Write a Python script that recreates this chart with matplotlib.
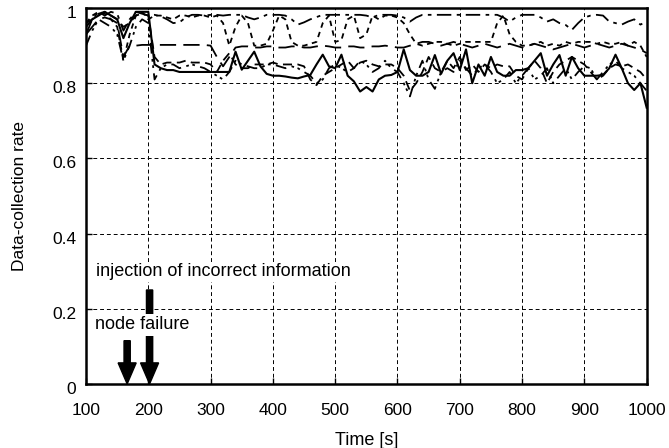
import matplotlib
matplotlib.use('Agg')
import matplotlib.pyplot as plt
import matplotlib.transforms as mtransforms
import numpy as np

plt.rcParams['font.family'] = ['Liberation Sans', 'DejaVu Sans']

# time axis, one sample every 10 s
time = np.arange(100, 1001, 10)

# solid line
rate_a = [0.95, 0.97, 0.98, 0.99, 0.98, 0.97, 0.92, 0.96, 0.99, 0.99,
          0.99, 0.85, 0.84, 0.835, 0.835, 0.83, 0.83, 0.83, 0.83, 0.83,
          0.83, 0.83, 0.83, 0.83, 0.884, 0.836, 0.86, 0.884, 0.845, 0.825,
          0.82, 0.82, 0.818, 0.815, 0.813, 0.818, 0.822, 0.85, 0.876, 0.845,
          0.84, 0.876, 0.82, 0.805, 0.778, 0.79, 0.778, 0.81, 0.82, 0.822,
          0.83, 0.89, 0.835, 0.82, 0.82, 0.83, 0.875, 0.825, 0.86, 0.88,
          0.835, 0.89, 0.80, 0.85, 0.82, 0.87, 0.83, 0.82, 0.82, 0.835,
          0.835, 0.84, 0.86, 0.88, 0.82, 0.85, 0.875, 0.82, 0.87, 0.84,
          0.82, 0.82, 0.82, 0.822, 0.84, 0.876, 0.84, 0.80, 0.782, 0.80,
          0.735]

# dash-dot line (top)
rate_b = [0.93, 0.97, 0.99, 0.98, 0.99, 0.985, 0.94, 0.97, 0.99, 0.985,
          0.98, 0.982, 0.978, 0.97, 0.96, 0.962, 0.975, 0.982, 0.982, 0.98,
          0.982, 0.982, 0.98, 0.982, 0.982, 0.982, 0.975, 0.97, 0.975, 0.982,
          0.982, 0.982, 0.98, 0.97, 0.956, 0.962, 0.97, 0.976, 0.982, 0.982,
          0.982, 0.982, 0.982, 0.982, 0.982, 0.98, 0.975, 0.982, 0.982, 0.982,
          0.98, 0.975, 0.964, 0.975, 0.982, 0.982, 0.982, 0.982, 0.982, 0.982,
          0.982, 0.982, 0.982, 0.982, 0.982, 0.982, 0.982, 0.975, 0.964, 0.975,
          0.982, 0.982, 0.982, 0.975, 0.964, 0.97, 0.96, 0.955, 0.942, 0.96,
          0.975, 0.98, 0.982, 0.98, 0.964, 0.96, 0.956, 0.964, 0.97, 0.956,
          0.964]

# fine dashed line
rate_c = [0.96, 0.98, 0.99, 0.985, 0.97, 0.95, 0.86, 0.93, 0.98, 0.99,
          0.97, 0.98, 0.98, 0.975, 0.97, 0.98, 0.98, 0.975, 0.98, 0.98,
          0.975, 0.98, 0.96, 0.90, 0.95, 0.98, 0.96, 0.90, 0.90, 0.905,
          0.94, 0.98, 0.97, 0.91, 0.90, 0.90, 0.905, 0.91, 0.96, 0.98,
          0.91, 0.915, 0.97, 0.98, 0.92, 0.93, 0.98, 0.97, 0.98, 0.98,
          0.975, 0.96, 0.93, 0.905, 0.90, 0.905, 0.91, 0.91, 0.905, 0.90,
          0.905, 0.91, 0.91, 0.91, 0.91, 0.91, 0.96, 0.98, 0.93, 0.91,
          0.90, 0.90, 0.905, 0.91, 0.90, 0.905, 0.90, 0.91, 0.905, 0.91,
          0.91, 0.91, 0.905, 0.91, 0.905, 0.905, 0.91, 0.90, 0.91, 0.90,
          0.87]

# long dashed line
rate_d = [0.93, 0.95, 0.97, 0.975, 0.97, 0.96, 0.87, 0.90, 0.90, 0.902,
          0.902, 0.902, 0.902, 0.902, 0.902, 0.902, 0.902, 0.902, 0.902, 0.902,
          0.90, 0.87, 0.845, 0.87, 0.895, 0.898, 0.898, 0.895, 0.895, 0.898,
          0.898, 0.895, 0.895, 0.898, 0.898, 0.895, 0.895, 0.898, 0.90, 0.898,
          0.895, 0.895, 0.898, 0.898, 0.895, 0.895, 0.898, 0.898, 0.90, 0.898,
          0.895, 0.895, 0.90, 0.905, 0.91, 0.91, 0.905, 0.90, 0.905, 0.91,
          0.905, 0.90, 0.895, 0.90, 0.905, 0.90, 0.895, 0.90, 0.905, 0.90,
          0.895, 0.90, 0.905, 0.90, 0.895, 0.89, 0.895, 0.90, 0.905, 0.90,
          0.895, 0.90, 0.905, 0.90, 0.895, 0.90, 0.905, 0.90, 0.895, 0.89,
          0.88]

# medium dashed line
rate_e = [0.96, 0.97, 0.985, 0.99, 0.98, 0.97, 0.95, 0.96, 0.98, 0.985,
          0.98, 0.87, 0.85, 0.855, 0.855, 0.855, 0.86, 0.855, 0.855, 0.855,
          0.85, 0.83, 0.86, 0.88, 0.85, 0.84, 0.84, 0.85, 0.85, 0.85,
          0.855, 0.85, 0.85, 0.85, 0.85, 0.845, 0.81, 0.795, 0.82, 0.83,
          0.84, 0.85, 0.86, 0.84, 0.855, 0.86, 0.85, 0.845, 0.85, 0.85,
          0.84, 0.82, 0.78, 0.80, 0.83, 0.87, 0.84, 0.83, 0.86, 0.84,
          0.87, 0.835, 0.85, 0.83, 0.85, 0.84, 0.85, 0.845, 0.845, 0.82,
          0.81, 0.84, 0.86, 0.84, 0.80, 0.83, 0.85, 0.86, 0.87, 0.86,
          0.85, 0.83, 0.81, 0.82, 0.84, 0.85, 0.845, 0.85, 0.84, 0.83,
          0.81]

# dash-dot-dot line
rate_f = [0.90, 0.94, 0.97, 0.96, 0.95, 0.93, 0.86, 0.90, 0.95, 0.97,
          0.96, 0.81, 0.84, 0.85, 0.85, 0.84, 0.845, 0.85, 0.845, 0.84,
          0.83, 0.82, 0.81, 0.83, 0.86, 0.85, 0.845, 0.84, 0.84, 0.85,
          0.85, 0.845, 0.84, 0.845, 0.84, 0.83, 0.82, 0.80, 0.81, 0.84,
          0.85, 0.84, 0.83, 0.84, 0.86, 0.85, 0.83, 0.84, 0.86, 0.84,
          0.83, 0.80, 0.765, 0.82, 0.86, 0.81, 0.785, 0.83, 0.84, 0.83,
          0.86, 0.84, 0.82, 0.84, 0.85, 0.83, 0.80, 0.81, 0.83, 0.80,
          0.82, 0.84, 0.81, 0.82, 0.84, 0.80, 0.82, 0.84, 0.81, 0.83,
          0.845, 0.84, 0.81, 0.83, 0.85, 0.86, 0.84, 0.83, 0.82, 0.80,
          0.78]

x_ticks = [100, 200, 300, 400, 500, 600, 700, 800, 900, 1000]
y_ticks = [0, 0.2, 0.4, 0.6, 0.8, 1]
y_labels = ['0', '0.2', '0.4', '0.6', '0.8', '1']

fig = plt.figure(figsize=(6.69, 4.48), dpi=100)
ax = fig.add_axes([0.1286, 0.143, 0.838, 0.839])

ax.plot(time, rate_a, color='black', lw=1.5, ls='-')
ax.plot(time, rate_b, color='black', lw=1.3, ls=(0, (8, 3, 2, 3)))
ax.plot(time, rate_c, color='black', lw=1.3, ls=(0, (3, 2.5)))
ax.plot(time, rate_d, color='black', lw=1.3, ls=(0, (9, 4)))
ax.plot(time, rate_e, color='black', lw=1.3, ls=(0, (5, 3)))
ax.plot(time, rate_f, color='black', lw=1.3, ls=(0, (6, 3, 1.5, 2, 1.5, 3)))

ax.set_xlim(100, 1000)
ax.set_ylim(0, 1)
ax.set_xticks(x_ticks)
ax.set_yticks(y_ticks)
ax.set_yticklabels(y_labels)
ax.tick_params(direction='in', length=4, width=1, labelsize=12.5)
ax.tick_params(axis='x', pad=14)
ax.tick_params(axis='y', pad=7)
ax.grid(True, color='black', lw=0.7, ls=(0, (4, 3)))
for s in ax.spines.values():
    s.set_linewidth(1.8)

# y tick labels sit a few pixels below their grid lines
shift = mtransforms.ScaledTranslation(0, -4 / 100, fig.dpi_scale_trans)
for lab in ax.get_yticklabels():
    lab.set_transform(lab.get_transform() + shift)

ax.set_xlabel('Time [s]', fontsize=13)
ax.set_ylabel('Data-collection rate', fontsize=12.5)
ax.xaxis.set_label_coords(0.5, -0.127)
ax.yaxis.set_label_coords(-0.105, 0.5)

# event arrows
ax.arrow(166, 0.115, 0, -0.115, width=10, head_width=29, head_length=0.056,
         length_includes_head=True, color='black', zorder=5)
ax.arrow(202, 0.25, 0, -0.25, width=10, head_width=29, head_length=0.056,
         length_includes_head=True, color='black', zorder=5)

ax.text(116, 0.298, 'injection of incorrect information', fontsize=13,
        va='center', ha='left', zorder=6,
        bbox=dict(facecolor='white', edgecolor='none', pad=1))
ax.text(114, 0.157, 'node failure', fontsize=13, va='center', ha='left',
        zorder=6, bbox=dict(facecolor='white', edgecolor='none', pad=2))

fig.savefig('out.png', dpi=100)
